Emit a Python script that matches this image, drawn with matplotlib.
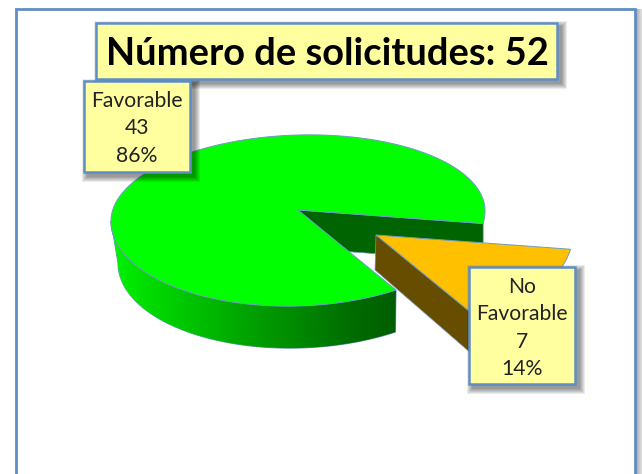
import numpy as np
import matplotlib
matplotlib.use('Agg')
import matplotlib.pyplot as plt
from matplotlib.colors import LinearSegmentedColormap
from matplotlib.patches import Polygon, Rectangle

# data
categories = ['Favorable', 'No\nFavorable']
counts = [43, 7]
percents = ['86%', '14%']
title_text = 'Número de solicitudes: 52'

plt.rcParams['font.family'] = ['Lato', 'DejaVu Sans']

# pie geometry in pixels, the front half of the rim is deeper (perspective)
cx, cy = 298, 216
rx = 187
ry_back, ry_front = 81, 90
tilt = 5
apex = np.array([298, 210])
start_angle = -8.0
blue = '#5f8ec6'
edge = '#6f9cc0'
label_fill = '#ffff9f'

fig = plt.figure(figsize=(6.42, 4.74), dpi=100)
ax = fig.add_axes([0, 0, 1, 1])
ax.set_xlim(0, 642)
ax.set_ylim(474, 0)
ax.axis('off')


def rim(a0, a1):
    t = np.radians(np.linspace(a0, a1, 300))
    s = np.sin(t)
    return np.column_stack([cx + rx * np.cos(t), cy - np.where(s > 0, ry_back, ry_front) * s - tilt * np.cos(t)])


def floor_rim(a0, a1):
    # lower edge of the wall, a little narrower than the top
    t = np.radians(np.linspace(a0, a1, 300))
    return np.column_stack([cx + 2 + (rx - 5) * np.cos(t), cy + 42 - ry_front * np.sin(t) - tilt * np.cos(t)])


def box(x0, y0, x1, y1, lw=1.8):
    # soft shadow first, then the box itself
    for grow in range(6, 0, -1):
        ax.add_patch(Rectangle((x0 + 4 - grow, y0 + 4 - grow), x1 - x0 + 2 * grow, y1 - y0 + 2 * grow,
                               fc='black', ec='none', alpha=0.08, zorder=5))
    ax.add_patch(Rectangle((x0, y0), x1 - x0, y1 - y0, fc=label_fill, ec=blue, lw=lw, zorder=6))


# outer frame and its shadow
for i, g in enumerate(['#a8a8a8', '#b4b4b4', '#c0c0c0', '#cacaca', '#d4d4d4', '#dedede', '#e6e6e6']):
    ax.add_patch(Rectangle((636 + i, 9), 1, 470, fc=g, ec='none'))
ax.add_patch(Rectangle((16, 9), 619, 480, fc='white', ec=blue, lw=2))

# slice sizes come from the counts
sweep = counts[1] / sum(counts) * 360
a_hi = start_angle
a_lo = start_angle - sweep
big_rim = rim(a_hi, a_hi + (360 - sweep))
p_right = big_rim[0]
p_low = big_rim[-1]

# dark inner wall of the green slice
wall = [apex, p_right, p_right + [0, 38], apex + [0, 38]]
ax.add_patch(Polygon(wall, fc='#006400', ec=edge, lw=0.5, zorder=1))

# green outer wall with gradient, clipped to the rim band
side = np.vstack([rim(180, 360 + a_lo), floor_rim(360 + a_lo, 180)])
side_patch = Polygon(side, fc='none', ec=edge, lw=0.8, zorder=2)
ax.add_patch(side_patch)
cmap = LinearSegmentedColormap.from_list('side', [(0, '#00f400'), (0.15, '#00d800'), (0.55, '#009800'),
                                                  (0.85, '#006c00'), (1, '#005e00')])
grad = ax.imshow(np.linspace(0, 1, 256)[None, :], extent=(cx - rx, p_low[0], cy + 140, cy - 10),
                 cmap=cmap, aspect='auto', zorder=2)
grad.set_clip_path(side_patch)
ax.set_xlim(0, 642)
ax.set_ylim(474, 0)

# green top
ax.add_patch(Polygon(np.vstack([[apex], big_rim]), fc='#00ff00', ec=edge, lw=0.7, zorder=3))

# exploded slice
off = np.array([78, 25])
stretch = 1.05
o_apex = apex + off
o_rim = o_apex + (rim(a_lo, a_hi) - apex) * stretch
o_low = o_rim[0]
front = [o_apex, o_low, o_low + [0, 41], o_apex + [-1, 35]]
ax.add_patch(Polygon(front, fc='#664d00', ec=edge, lw=0.5, zorder=4))
ax.add_patch(Polygon(np.vstack([[o_apex], o_rim]), fc='#ffc000', ec=edge, lw=0.7, zorder=4))

# title box
box(96, 23, 557, 79)
ax.text(327, 53.5, title_text, fontsize=27.4, fontweight='bold', color='black', ha='center', va='center', zorder=7)

# data labels
box(84, 81, 190, 172)
ax.text(137, 128.5, f'{categories[0]}\n{counts[0]}\n{percents[0]}', fontsize=15.2, color='#222222',
        ha='center', va='center', linespacing=1.46, zorder=7)
box(469, 267, 575, 384)
ax.text(522, 328, f'{categories[1]}\n{counts[1]}\n{percents[1]}', fontsize=15.2, color='#222222',
        ha='center', va='center', linespacing=1.46, zorder=7)

fig.savefig('out.png', dpi=100)
